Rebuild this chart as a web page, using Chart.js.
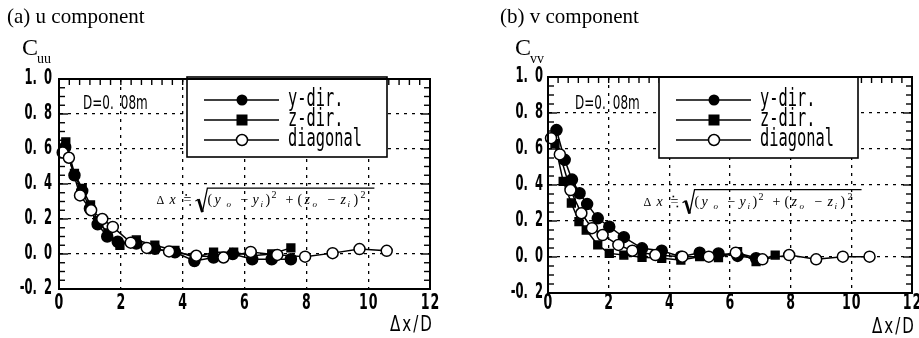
<!DOCTYPE html>
<html><head><meta charset="utf-8">
<script src="https://cdn.jsdelivr.net/npm/chart.js@4.4.1/dist/chart.umd.min.js"></script>
<style>
html,body{margin:0;padding:0;background:#fff;}
#wrap{position:relative;width:919px;height:338px;overflow:hidden;background:#fff;}
#c1{position:absolute;left:0;top:0;width:460px;height:338px;}
#c2{position:absolute;left:460px;top:0;width:459px;height:338px;}
</style></head><body>
<div id="wrap"><canvas id="c1" width="460" height="338"></canvas><canvas id="c2" width="459" height="338"></canvas></div>
<script>
// ---- tick labels / categories ----
const xTickValues = [0, 2, 4, 6, 8, 10, 12];
const xTickLabels = ['0', '2', '4', '6', '8', '10', '12'];
const yTickValues = [-0.2, 0.0, 0.2, 0.4, 0.6, 0.8, 1.0];
const yTickLabels = ['-0.2', '0.0', '0.2', '0.4', '0.6', '0.8', '1.0'];
const seriesNames = ['y-dir.', 'z-dir.', 'diagonal'];

// ---- (a) u component ----
const uYdirX = [0.2, 0.5, 0.75, 1.0, 1.25, 1.56, 1.9, 2.5, 3.1, 3.75, 4.38, 5.0, 5.62, 6.25, 6.88, 7.5];
const uYdirC = [0.61, 0.45, 0.36, 0.26, 0.17, 0.10, 0.07, 0.06, 0.03, 0.01, -0.04, -0.02, 0.0, -0.03, -0.03, -0.03];
const uZdirX = [0.22, 0.5, 0.75, 1.02, 1.25, 1.58, 1.97, 2.5, 3.1, 3.75, 4.38, 5.0, 5.65, 6.25, 6.88, 7.5];
const uZdirC = [0.64, 0.46, 0.375, 0.28, 0.19, 0.12, 0.05, 0.08, 0.05, 0.02, -0.02, 0.01, 0.01, -0.01, 0.0, 0.035];
const uDiagX = [0.12, 0.32, 0.68, 1.04, 1.4, 1.74, 2.32, 2.84, 3.56, 4.44, 5.32, 6.2, 7.06, 7.96, 8.85, 9.72, 10.6];
const uDiagC = [0.58, 0.55, 0.335, 0.25, 0.2, 0.155, 0.065, 0.035, 0.015, -0.01, -0.02, 0.012, -0.005, -0.015, 0.005, 0.028, 0.018];

// ---- (b) v component ----
const vYdirX = [0.28, 0.55, 0.79, 1.04, 1.29, 1.64, 2.02, 2.5, 3.1, 3.75, 4.38, 5.0, 5.62, 6.25, 6.86];
const vYdirC = [0.705, 0.54, 0.43, 0.354, 0.294, 0.215, 0.168, 0.11, 0.048, 0.035, 0.002, 0.024, 0.02, 0.006, -0.007];
const vZdirX = [0.23, 0.5, 0.77, 1.02, 1.26, 1.64, 2.02, 2.5, 3.1, 3.75, 4.38, 5.0, 5.62, 6.25, 6.86, 7.49];
const vZdirC = [0.63, 0.42, 0.30, 0.196, 0.15, 0.067, 0.02, 0.011, -0.002, -0.007, -0.017, 0.002, -0.004, 0.03, -0.026, 0.011];
const vDiagX = [0.1, 0.39, 0.74, 1.1, 1.45, 1.8, 2.32, 2.78, 3.54, 4.43, 5.3, 6.19, 7.07, 7.95, 8.84, 9.72, 10.6];
const vDiagC = [0.66, 0.57, 0.372, 0.243, 0.16, 0.122, 0.067, 0.035, 0.011, 0.002, 0.002, 0.024, -0.013, 0.011, -0.013, 0.002, 0.002];

const zip = (xs, ys) => xs.map((x, i) => ({x, y: ys[i]}));

function drawText(ctx, s, x, y, o) {
  ctx.save();
  ctx.font = o.font;
  ctx.fillStyle = '#000';
  ctx.textBaseline = o.baseline || 'middle';
  const sx = o.sx || 1, ls = o.ls || 0, dg = o.dotGap || 0;
  const chars = Array.from(s);
  const ws = chars.map(c => ctx.measureText(c).width * sx + ls + (c === '.' ? dg : 0));
  const total = ws.reduce((a, b) => a + b, 0) - ls;
  let cx = o.align === 'right' ? x - total : o.align === 'center' ? x - total / 2 : x;
  chars.forEach((c, i) => {
    ctx.save(); ctx.translate(cx, y); ctx.scale(sx, 1); ctx.fillText(c, 0, 0); ctx.restore();
    cx += ws[i];
  });
  ctx.restore();
}

function drawMarker(ctx, kind, x, y) {
  ctx.save();
  ctx.lineWidth = 1.5; ctx.strokeStyle = '#000';
  if (kind === 'circle') { ctx.beginPath(); ctx.arc(x, y, 5.5, 0, Math.PI * 2); ctx.fillStyle = '#000'; ctx.fill(); }
  else if (kind === 'rect') { ctx.fillStyle = '#000'; ctx.fillRect(x - 5.5, y - 5.5, 11, 11); }
  else { ctx.beginPath(); ctx.arc(x, y, 5.5, 0, Math.PI * 2); ctx.fillStyle = '#fff'; ctx.fill(); ctx.stroke(); }
  ctx.restore();
}

function drawFormula(ctx, x0, y0) {
  ctx.save();
  ctx.fillStyle = '#000'; ctx.textBaseline = 'alphabetic';
  const it = 'italic 14px "Liberation Serif"', up = '14px "Liberation Serif"', sub = 'italic 9px "Liberation Serif"', sup = '10px "Liberation Serif"';
  const pieces = [
    ['Δ', 0, 0, '12px "Liberation Serif"'], ['x', 13, 0, it], ['=', 27, 0, up],
    ['(', 51, 0, up], ['y', 58, 0, it], ['o', 70, 3, sub], ['−', 84, 0, up], ['y', 96, 0, it], ['i', 104, 3, sub],
    [')', 109, 0, up], ['2', 115, -6, sup], ['+', 129, 0, up], ['(', 141, 0, up], ['z', 148, 0, it], ['o', 156, 3, sub],
    ['−', 171, 0, up], ['z', 184, 0, it], ['i', 191, 3, sub], [')', 197, 0, up], ['2', 204, -6, sup]
  ];
  pieces.forEach(p => { ctx.font = p[3]; ctx.fillText(p[0], x0 + p[1], y0 + p[2]); });
  // dots of the approx-equal sign
  ctx.fillRect(x0 + 29, y0 - 10, 1.6, 1.6);
  ctx.fillRect(x0 + 33, y0 + 0, 1.6, 1.6);
  ctx.strokeStyle = '#000';
  ctx.lineWidth = 1.2;
  ctx.beginPath();
  ctx.moveTo(x0 + 39, y0 - 3); ctx.lineTo(x0 + 42, y0 - 5);
  ctx.stroke();
  ctx.lineWidth = 2.8;
  ctx.beginPath(); ctx.moveTo(x0 + 42, y0 - 5); ctx.lineTo(x0 + 46, y0 + 8); ctx.stroke();
  ctx.lineWidth = 1.3;
  ctx.beginPath(); ctx.moveTo(x0 + 46, y0 + 8); ctx.lineTo(x0 + 51, y0 - 16); ctx.lineTo(x0 + 218, y0 - 16); ctx.stroke();
  ctx.restore();
}

const tickFont = 'bold 21px "DejaVu Sans"';

const decoPlugin = {
  id: 'deco',
  beforeDatasetsDraw(chart) {
    const o = chart.options.plugins.deco;
    const {ctx, chartArea: a, scales: {x, y}} = chart;
    ctx.save();
    ctx.strokeStyle = '#000'; ctx.lineWidth = 1.4;
    const line = (x1, y1, x2, y2) => { ctx.beginPath(); ctx.moveTo(x1, y1); ctx.lineTo(x2, y2); ctx.stroke(); };
    for (let k = 0; k <= 24; k++) {
      const py = y.getPixelForValue(-0.2 + k * 0.05);
      const L = (k % 4 === 0) ? 9 : 6;
      line(a.left, py, a.left + L, py);
      line(a.right, py, a.right - L, py);
    }
    for (let k = 0; k <= 36; k++) {
      const px = x.getPixelForValue(k / 3);
      line(px, a.top, px, a.top + 6);
    }
    ctx.restore();
    // D=0.08m
    drawText(ctx, 'D=0.08m', a.left + o.dX, o.dY, {font: '20px "DejaVu Sans"', sx: 0.6, dotGap: 7});
    // formula
    drawFormula(ctx, x.getPixelForValue(3.15), y.getPixelForValue(0.285));
    // legend box
    const bx = a.left + o.legDX, by = o.legTop, bw = o.legW, bh = o.legH;
    ctx.save();
    ctx.fillStyle = '#fff'; ctx.fillRect(bx, by, bw, bh);
    ctx.strokeStyle = '#000'; ctx.lineWidth = 1.6; ctx.strokeRect(bx, by, bw, bh);
    const kinds = ['circle', 'rect', 'open'];
    kinds.forEach((k, i) => {
      const ry = by + 23 + i * 20;
      ctx.lineWidth = 1.4; ctx.beginPath(); ctx.moveTo(bx + 17, ry); ctx.lineTo(bx + 92, ry); ctx.stroke();
      drawMarker(ctx, k, bx + 55, ry);
      drawText(ctx, seriesNames[i], bx + 101, ry, {font: '24px "DejaVu Sans Mono"', sx: 0.64});
    });
    ctx.restore();
  },
  afterDraw(chart) {
    const o = chart.options.plugins.deco;
    const {ctx, chartArea: a, scales: {x, y}} = chart;
    ctx.save();
    ctx.strokeStyle = '#000'; ctx.lineWidth = 2;
    ctx.strokeRect(a.left, a.top, a.right - a.left, a.bottom - a.top);
    ctx.restore();
    yTickValues.forEach((v, i) => {
      drawText(ctx, yTickLabels[i], a.left - o.yLabGap, y.getPixelForValue(v), {font: tickFont, sx: 0.55, align: 'right', dotGap: 7});
    });
    xTickValues.forEach((v, i) => {
      drawText(ctx, xTickLabels[i], x.getPixelForValue(v), 304, {font: tickFont, sx: 0.6, align: 'center', ls: 1});
    });
    drawText(ctx, 'Δx/D', a.right + 2, o.axY, {font: '21px "DejaVu Sans"', sx: 0.72, align: 'right', ls: 2});
    // title
    ctx.save();
    ctx.fillStyle = '#000'; ctx.textBaseline = 'middle';
    ctx.font = '21px "Liberation Serif"';
    ctx.fillText(o.title, o.titleX, 17);
    ctx.font = '24px "Liberation Serif"';
    ctx.fillText('C', o.cX, 49);
    ctx.font = '14px "Liberation Serif"';
    ctx.fillText(o.sub, o.cX + 15, 59);
    ctx.restore();
  }
};

function makeChart(id, data, pad, deco) {
  const ds = (label, pts, kind, order) => ({
    label, data: pts, showLine: true, borderColor: '#000', borderWidth: 1.5,
    pointStyle: kind === 'rect' ? 'rect' : 'circle',
    pointRadius: kind === 'rect' ? 5.5 : 5.5, pointBorderWidth: 1.5,
    pointBackgroundColor: kind === 'open' ? '#fff' : '#000', pointBorderColor: '#000',
    order, clip: 8
  });
  return new Chart(document.getElementById(id), {
    type: 'scatter',
    data: {datasets: [
      ds(seriesNames[0], data[0], 'circle', 2),
      ds(seriesNames[1], data[1], 'rect', 1),
      ds(seriesNames[2], data[2], 'open', 0)
    ]},
    options: {
      responsive: false, animation: false, events: [],
      layout: {padding: pad},
      plugins: {legend: {display: false}, tooltip: {enabled: false}, deco},
      scales: {
        x: {type: 'linear', min: 0, max: 12,
          ticks: {display: false, stepSize: 2},
          grid: {drawTicks: false, lineWidth: 1.3, color: c => (c.tick && (c.tick.value === 0 || c.tick.value === 12)) ? 'rgba(0,0,0,0)' : '#000'},
          border: {display: true, color: '#000', width: 2, dash: [3, 5]},
          afterFit: s => { s.height = 0; }},
        y: {type: 'linear', min: -0.2, max: 1.0,
          ticks: {display: false, stepSize: 0.2},
          grid: {drawTicks: false, lineWidth: 1.3, color: c => (c.tick && (Math.abs(c.tick.value + 0.2) < 1e-6 || Math.abs(c.tick.value - 1) < 1e-6)) ? 'rgba(0,0,0,0)' : '#000'},
          border: {display: true, color: '#000', width: 2, dash: [3, 5]},
          afterFit: s => { s.width = 0; }}
      }
    },
    plugins: [decoPlugin]
  });
}

makeChart('c1',
  [zip(uYdirX, uYdirC), zip(uZdirX, uZdirC), zip(uDiagX, uDiagC)],
  {left: 59, right: 30, top: 79, bottom: 49},
  {title: '(a) u component', titleX: 7, cX: 22, sub: 'uu', dX: 24, dY: 104, legDX: 128, legTop: 77, legW: 200, legH: 80, yLabGap: 7, axY: 326});
makeChart('c2',
  [zip(vYdirX, vYdirC), zip(vZdirX, vZdirC), zip(vDiagX, vDiagC)],
  {left: 88, right: 2, top: 77, bottom: 45},
  {title: '(b) v component', titleX: 40, cX: 55, sub: 'vv', dX: 27, dY: 104, legDX: 111, legTop: 77, legW: 199, legH: 81, yLabGap: 5, axY: 328});
</script>
</body></html>
